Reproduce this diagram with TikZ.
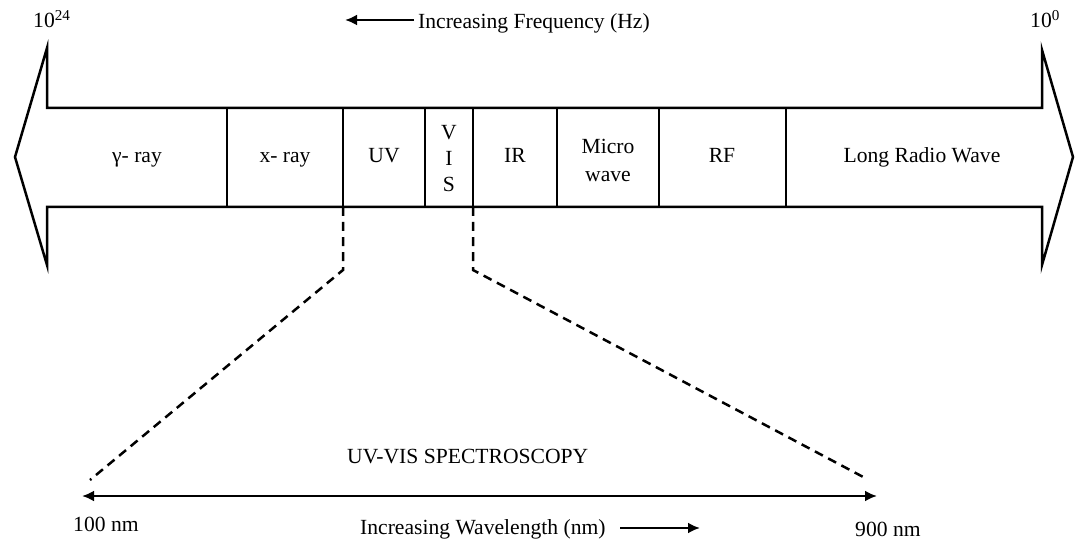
\documentclass[tikz,border=0pt]{standalone}
\usepackage{fontspec}
\setmainfont{Liberation Serif}
\usetikzlibrary{arrows.meta}
\begin{document}
\begin{tikzpicture}[x=1pt,y=-1pt,
  lbl/.style={inner sep=0pt,anchor=base,font=\fontsize{21.6}{25}\selectfont},
  lblw/.style={inner sep=0pt,anchor=base west,font=\fontsize{21.6}{25}\selectfont},
  band/.style={line width=2.5pt,line join=miter},
  divider/.style={line width=2.5pt},
  zoomline/.style={line width=2.5pt,dash pattern=on 9pt off 6pt},
  arr/.style={line width=2.5pt,-{Latex[length=12pt,width=11pt]}}]
\useasboundingbox (0,0) rectangle (1076,540);
% band outline (double-headed arrow)
\draw[band] (47,108) -- (47,48) -- (15,157) -- (47,265) -- (47,207)
  -- (1042,207) -- (1042,265) -- (1073,157) -- (1042,50) -- (1042,108) -- cycle;
% dividers
\foreach \x/\n in {227/d1,343/d2,425/d3,473/d4,557/d5,659/d6,786/d7}{
  \coordinate (\n t) at (\x,108);
  \coordinate (\n b) at (\x,207);
  \draw[divider] (\n t) -- (\n b);
}
% band labels
\node[lbl] (gamma) at (137,163) {γ- ray};
\node[lbl] (xray) at (285,163) {x- ray};
\node[lbl] (uv) at (384,163) {UV};
\node[lbl] (visV) at (449,140) {V};
\node[lbl] (visI) at (449,166) {I};
\node[lbl] (visS) at (449,192) {S};
\node[lbl] (ir) at (515,163) {IR};
\node[lbl] (micro) at (608,154) {Micro};
\node[lbl] (wave) at (608,182) {wave};
\node[lbl] (rf) at (722,163) {RF};
\node[lbl] (lrw) at (922,163) {Long Radio Wave};
% top labels
\node[lblw] (f24) at (33,28) {10\textsuperscript{24}};
\node[lblw] (f0) at (1030,28) {10\textsuperscript{0}};
\node[lblw] (freq) at (418,29) {Increasing Frequency (Hz)};
\coordinate (fa) at (414,20);
\coordinate (fb) at (345,20);
\draw[arr] (fa) -- (fb);
% zoom lines
\coordinate (bl) at (90,480);
\coordinate (br) at (867,479);
\draw[zoomline] (d2b) -- (343,270) -- (bl);
\draw[zoomline] (d4b) -- (473,270) -- (br);
% bottom scale
\node[lblw] (uvvis) at (347,463) {UV-VIS SPECTROSCOPY};
\coordinate (sl) at (82,496);
\coordinate (sr) at (877,496);
\draw[line width=2.5pt,{Latex[length=12pt,width=11pt]}-{Latex[length=12pt,width=11pt]}] (sl) -- (sr);
\node[lblw] (n100) at (73,531) {100 nm};
\node[lblw] (n900) at (855,536) {900 nm};
\node[lblw] (wl) at (360,534) {Increasing Wavelength (nm)};
\coordinate (wa) at (620,528);
\coordinate (wb) at (700,528);
\draw[arr] (wa) -- (wb);
\end{tikzpicture}
\end{document}
